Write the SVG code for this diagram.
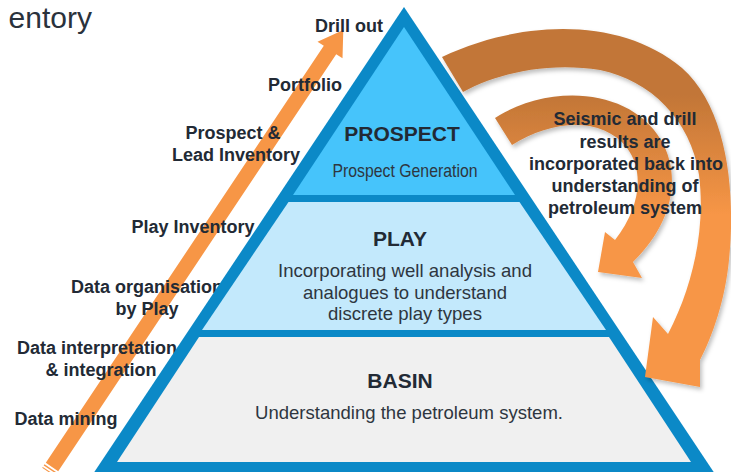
<svg xmlns="http://www.w3.org/2000/svg" width="731" height="472" viewBox="0 0 731 472">
  <defs>
    <style>
      .lbl { font-family: "Liberation Sans", Arial, sans-serif; font-weight: bold; font-size: 18px; fill: #222a35; text-anchor: middle; }
      .head { font-family: "Liberation Sans", Arial, sans-serif; font-weight: bold; font-size: 21px; fill: #222a35; text-anchor: middle; }
      .body { font-family: "Liberation Sans", Arial, sans-serif; font-size: 19px; fill: #2e3640; text-anchor: middle; }
      .title { font-family: "Liberation Sans", Arial, sans-serif; font-size: 30px; fill: #2a323c; }
      .frame { fill: #0b89c7; }
    </style>
    <linearGradient id="curveFill" gradientUnits="userSpaceOnUse" x1="0" y1="95" x2="0" y2="215">
      <stop offset="0" stop-color="#c27637"/>
      <stop offset="1" stop-color="#f79646"/>
    </linearGradient>
    <filter id="shade" x="-10%" y="-10%" width="130%" height="130%">
      <feDropShadow dx="2" dy="3" stdDeviation="2" flood-color="#000" flood-opacity="0.25"/>
    </filter>
  </defs>

  <!-- heading fragment at the top-left -->
  <text class="title" x="92" y="28" text-anchor="end">entory</text>

  <!-- rising striped arrow -->
  <g id="progress-arrow" fill="#f79646">
    <polygon points="45.8,462.8 323.8,45.8 317.5,41.7 343.3,30 342.5,58.3 336.2,54.2 58.2,471.2"/>
    <line x1="44.1" y1="464.9" x2="56.6" y2="473.2" stroke="#f79646" stroke-width="1.4"/>
    <line x1="42.5" y1="467.4" x2="55" y2="475.7" stroke="#f79646" stroke-width="1.1"/>
  </g>

  <!-- stage labels along the rising arrow -->
  <g id="stage-labels">
    <text class="lbl" x="349" y="32">Drill out</text>
    <text class="lbl" x="305" y="91">Portfolio</text>
    <text class="lbl" x="233" y="139">Prospect &amp;</text>
    <text class="lbl" x="236" y="161">Lead Inventory</text>
    <text class="lbl" x="193" y="233">Play Inventory</text>
    <text class="lbl" x="147" y="293">Data organisation</text>
    <text class="lbl" x="147" y="315">by Play</text>
    <text class="lbl" x="97" y="354">Data interpretation</text>
    <text class="lbl" x="101" y="376">&amp; integration</text>
    <text class="lbl" x="66" y="425">Data mining</text>
  </g>

  <!-- pyramid -->
  <g id="pyramid">
    <polygon class="frame" points="404,7 93,474 715,474"/>
  </g>
  <g id="prospect">
    <polygon points="404,27 293,195 515,195" fill="#46c4fb"/>
    <text class="head" x="402" y="141">PROSPECT</text>
    <text class="body" x="405" y="177" font-size="15" textLength="145" lengthAdjust="spacingAndGlyphs">Prospect Generation</text>
  </g>
  <g id="play">
    <polygon points="288.5,202 519.5,202 606,330 202,330" fill="#c3e9fc"/>
    <text class="head" x="400" y="246">PLAY</text>
    <text class="body" x="405" y="277" textLength="254" lengthAdjust="spacingAndGlyphs">Incorporating well analysis and</text>
    <text class="body" x="405" y="298.5" textLength="204" lengthAdjust="spacingAndGlyphs">analogues to understand</text>
    <text class="body" x="405" y="320" textLength="154" lengthAdjust="spacingAndGlyphs">discrete play types</text>
  </g>
  <g id="basin">
    <polygon points="199,337 609,337 691,462 117,462" fill="#f0f0f0"/>
    <text class="head" x="400" y="388">BASIN</text>
    <text class="body" x="409" y="419" font-size="20" textLength="308" lengthAdjust="spacingAndGlyphs">Understanding the petroleum system.</text>
  </g>

  <!-- feedback loop arrows -->
  <g id="feedback-arrows" fill="url(#curveFill)" filter="url(#shade)">
    <path d="M442,57 C520,20 620,16 682,68 C727,108 736,190 729,260 C725,300 713,335 700,360 L700,387 L645,377 L653,317 L668,334 C692,288 706,230 699,175 C691,120 650,80 600,70 C550,62 500,72 463,92 Z"/>
    <path d="M495,118 C550,83 630,88 661,140 C683,178 671,225 633,262 L642,278 L598,272 L605,232 L615,240 C640,208 645,172 627,148 C602,116 552,120 512,145 Z"/>
  </g>

  <g id="feedback-note">
    <text class="lbl" x="625" y="125">Seismic and drill</text>
    <text class="lbl" x="625" y="148">results are</text>
    <text class="lbl" x="626" y="170">incorporated back into</text>
    <text class="lbl" x="625" y="192">understanding of</text>
    <text class="lbl" x="625" y="214">petroleum system</text>
  </g>
</svg>
